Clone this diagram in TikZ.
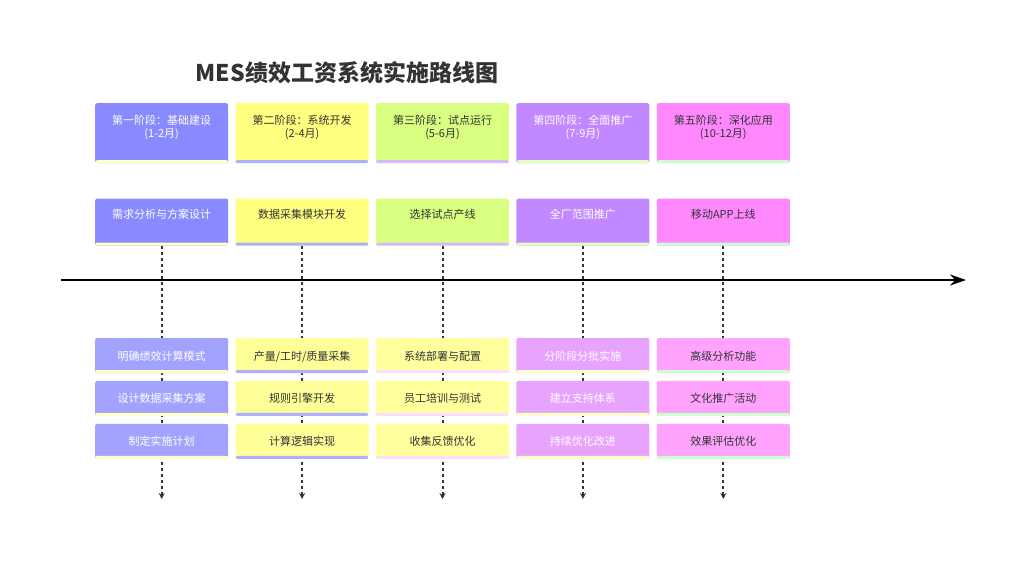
\documentclass[tikz,border=0pt]{standalone}
\usepackage{fontspec}
\setmainfont{Noto Sans CJK SC}
\usetikzlibrary{arrows.meta,positioning}
\definecolor{ink}{RGB}{51,51,51}
\definecolor{stageA}{RGB}{138,138,255} \definecolor{eventA}{RGB}{163,163,255}
\definecolor{stageB}{RGB}{255,255,128} \definecolor{eventB}{RGB}{255,255,153}
\definecolor{stageC}{RGB}{217,255,128} \definecolor{eventC}{RGB}{255,255,158}
\definecolor{stageD}{RGB}{193,136,255} \definecolor{eventD}{RGB}{232,163,255}
\definecolor{stageE}{RGB}{255,136,255} \definecolor{eventE}{RGB}{255,163,255}
\definecolor{edgeA}{RGB}{255,255,200} \definecolor{edgeB}{RGB}{175,175,255}
\definecolor{edgeC}{RGB}{215,185,255} \definecolor{edgeD}{RGB}{225,255,190}
\definecolor{edgeE}{RGB}{205,255,205} \definecolor{edgeF}{RGB}{250,222,255}

\begin{document}
\begin{tikzpicture}[x=1pt,y=1pt]
\useasboundingbox (0,0) rectangle (1024,-560);
\tikzset{BoxStyle/.style 2 args={rectangle,rounded corners=2pt,fill=#1,
    minimum width=133pt,text width=133pt,inner xsep=0pt,align=center,
    font=\fontsize{11}{13}\selectfont,
    path picture={\fill[#2] ([yshift=3pt]path picture bounding box.south west)
      rectangle (path picture bounding box.south east);}},
  StageStyle/.style={inner ysep=10pt,text height=11.2pt,text depth=28.8pt},
  TaskStyle/.style={inner ysep=10pt,text height=10.2pt,text depth=16.8pt},
  EventStyle/.style={inner ysep=0pt,minimum height=35pt,text height=9pt,text depth=0pt},
  LightText/.style={text=white},
  DarkText/.style={text=ink},
  AxisStyle/.style={line width=2.5pt,-{Stealth[length=16pt,width=11pt]}},
  GuideStyle/.style={ink,line width=2pt,dash pattern=on 3pt off 3pt,
    -{Stealth[length=6pt,width=6pt]}}}
% title
\node[text=ink,font=\bfseries\fontsize{23}{26}\selectfont] (title) at (347,-73) {MES绩效工资系统实施路线图};
% stages
\node[BoxStyle={stageA}{edgeA},StageStyle,LightText,anchor=north west] (S1) at (95,-103) {第一阶段：基础建设\\(1-2月)};
\node[BoxStyle={stageB}{edgeB},StageStyle,DarkText,right=7pt of S1] (S2) {第二阶段：系统开发\\(2-4月)};
\node[BoxStyle={stageC}{edgeC},StageStyle,DarkText,right=7pt of S2] (S3) {第三阶段：试点运行\\(5-6月)};
\node[BoxStyle={stageD}{edgeD},StageStyle,LightText,right=7pt of S3] (S4) {第四阶段：全面推广\\(7-9月)};
\node[BoxStyle={stageE}{edgeE},StageStyle,DarkText,right=7pt of S4] (S5) {第五阶段：深化应用\\(10-12月)};
% main tasks
\node[BoxStyle={stageA}{edgeA},TaskStyle,LightText,below=35pt of S1] (T1) {需求分析与方案设计};
\node[BoxStyle={stageB}{edgeB},TaskStyle,DarkText,below=35pt of S2] (T2) {数据采集模块开发};
\node[BoxStyle={stageC}{edgeC},TaskStyle,DarkText,below=35pt of S3] (T3) {选择试点产线};
\node[BoxStyle={stageD}{edgeD},TaskStyle,LightText,below=35pt of S4] (T4) {全厂范围推广};
\node[BoxStyle={stageE}{edgeE},TaskStyle,DarkText,below=35pt of S5] (T5) {移动APP上线};
% time axis
\coordinate (L) at (61,-280);
\coordinate (R) at (966,-280);
\draw[AxisStyle] (L) -- (R);
% guides
\coordinate (G1) at (T1.south |- 0,-499);
\coordinate (G2) at (T2.south |- 0,-499);
\coordinate (G3) at (T3.south |- 0,-499);
\coordinate (G4) at (T4.south |- 0,-499);
\coordinate (G5) at (T5.south |- 0,-499);
\draw[GuideStyle] (T1.south) -- (G1);
\draw[GuideStyle] (T2.south) -- (G2);
\draw[GuideStyle] (T3.south) -- (G3);
\draw[GuideStyle] (T4.south) -- (G4);
\draw[GuideStyle] (T5.south) -- (G5);
% events
\node[BoxStyle={eventA}{edgeA},EventStyle,LightText,below=92pt of T1] (A1) {明确绩效计算模式};
\node[BoxStyle={eventA}{edgeA},EventStyle,LightText,below=7.5pt of A1] (B1) {设计数据采集方案};
\node[BoxStyle={eventA}{edgeA},EventStyle,LightText,below=7.5pt of B1] (C1) {制定实施计划};
\node[BoxStyle={eventB}{edgeB},EventStyle,DarkText,below=92pt of T2] (A2) {产量/工时/质量采集};
\node[BoxStyle={eventB}{edgeB},EventStyle,DarkText,below=7.5pt of A2] (B2) {规则引擎开发};
\node[BoxStyle={eventB}{edgeB},EventStyle,DarkText,below=7.5pt of B2] (C2) {计算逻辑实现};
\node[BoxStyle={eventC}{edgeF},EventStyle,DarkText,below=92pt of T3] (A3) {系统部署与配置};
\node[BoxStyle={eventC}{edgeF},EventStyle,DarkText,below=7.5pt of A3] (B3) {员工培训与测试};
\node[BoxStyle={eventC}{edgeF},EventStyle,DarkText,below=7.5pt of B3] (C3) {收集反馈优化};
\node[BoxStyle={eventD}{edgeA},EventStyle,LightText,below=92pt of T4] (A4) {分阶段分批实施};
\node[BoxStyle={eventD}{edgeA},EventStyle,LightText,below=7.5pt of A4] (B4) {建立支持体系};
\node[BoxStyle={eventD}{edgeA},EventStyle,LightText,below=7.5pt of B4] (C4) {持续优化改进};
\node[BoxStyle={eventE}{edgeE},EventStyle,DarkText,below=92pt of T5] (A5) {高级分析功能};
\node[BoxStyle={eventE}{edgeE},EventStyle,DarkText,below=7.5pt of A5] (B5) {文化推广活动};
\node[BoxStyle={eventE}{edgeE},EventStyle,DarkText,below=7.5pt of B5] (C5) {效果评估优化};
\end{tikzpicture}
\end{document}
